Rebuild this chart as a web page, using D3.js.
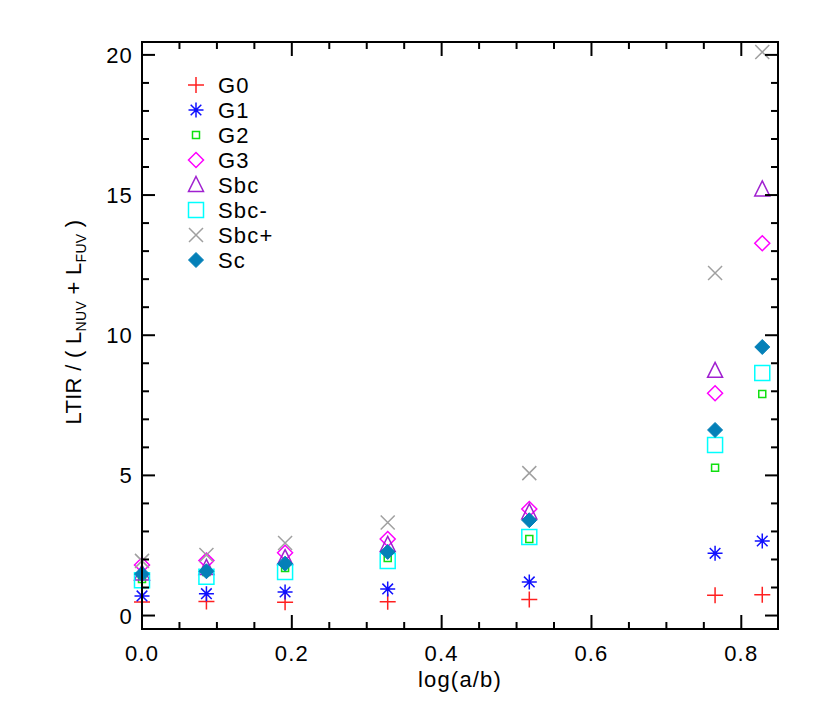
<html>
  <head>
    <style>
      body { margin: 0; background: #fff; }
      text { font-family: "Liberation Sans", Arial, sans-serif; fill: #000; letter-spacing: 1.2px; }
    </style>
  </head>
  <body>
    <div id="main"><svg></svg></div>
    <script src="https://d3js.org/d3.v7.min.js"></script>
    <script>
      // log(a/b) positions
      var xVals = [0.0, 0.086, 0.191, 0.328, 0.517, 0.765, 0.828];

      var g0   = [0.48, 0.50, 0.47, 0.49, 0.57, 0.72, 0.74];
      var g1   = [0.70, 0.78, 0.84, 0.95, 1.20, 2.22, 2.66];
      var g2   = [1.30, 1.55, 1.70, 2.05, 2.73, 5.27, 7.90];
      var g3   = [1.80, 1.96, 2.24, 2.73, 3.80, 7.93, 13.28];
      var sbc  = [1.50, 1.70, 2.05, 2.52, 3.68, 8.73, 15.20];
      var sbcM = [1.26, 1.38, 1.55, 1.95, 2.80, 6.08, 8.65];
      var sbcP = [1.95, 2.16, 2.59, 3.32, 5.08, 12.22, 20.10];
      var sc   = [1.48, 1.58, 1.85, 2.27, 3.40, 6.62, 9.58];

      var seriesNames = ["G0", "G1", "G2", "G3", "Sbc", "Sbc-", "Sbc+", "Sc"];
      var seriesVals = [g0, g1, g2, g3, sbc, sbcM, sbcP, sc];
      var seriesColors = ["#ff2020", "#1010ff", "#10e010", "#ff00ff", "#a020d0", "#00ffff", "#a0a0a0", "#0480b8"];
      var seriesSymbols = ["plus", "asterisk", "smallsquare", "diamond", "triangle", "square", "cross", "filldiamond"];

      var xTicks = [0.0, 0.2, 0.4, 0.6, 0.8];
      var yTicks = [0, 5, 10, 15, 20];

      var width = 830, height = 713;
      var pL = 142, pR = 778, pT = 42, pB = 629;

      var svg = d3.select("#main svg").attr("width", width).attr("height", height);

      var x = d3.scaleLinear().domain([0, 0.849]).range([pL, pR]);
      var y = d3.scaleLinear().domain([-0.48, 20.46]).range([pB, pT]);

      // symbol path, centered at 0,0
      function symbolPath(type) {
        var r = 7.5;
        switch (type) {
          case "plus":
            return "M-8,0H8M0,-8V8";
          case "asterisk":
            var p = "";
            for (var i = 0; i < 4; i++) {
              var a = i * Math.PI / 4;
              var dx = Math.cos(a) * r, dy = Math.sin(a) * r;
              p += "M" + (-dx) + "," + (-dy) + "L" + dx + "," + dy;
            }
            return p;
          case "smallsquare":
            return "M-3.5,-3.5H3.5V3.5H-3.5Z";
          case "square":
            return "M-7.5,-7.5H7.5V7.5H-7.5Z";
          case "diamond":
          case "filldiamond":
            return "M0,-7.5L7.5,0L0,7.5L-7.5,0Z";
          case "triangle":
            return "M0,-8.5L7.5,6.5H-7.5Z";
          case "cross":
            return "M-7,-7L7,7M7,-7L-7,7";
        }
      }

      function drawSymbol(g, type, color, cx, cy) {
        var fill = type === "filldiamond" ? color : "none";
        g.append("path")
          .attr("d", symbolPath(type))
          .attr("transform", "translate(" + cx + "," + cy + ")")
          .attr("fill", fill)
          .attr("stroke", color)
          .attr("stroke-width", type === "filldiamond" ? 1 : 1.5);
      }

      // points
      var pts = svg.append("g");
      seriesVals.forEach(function(vals, si) {
        vals.forEach(function(v, i) {
          drawSymbol(pts, seriesSymbols[si], seriesColors[si], x(xVals[i]), y(v));
        });
      });

      // axes box
      var axes = svg.append("g").attr("stroke", "#000").attr("stroke-width", 2);
      axes.append("rect")
        .attr("x", pL).attr("y", pT)
        .attr("width", pR - pL).attr("height", pB - pT)
        .attr("fill", "none");

      var xMinor = d3.range(0, 0.85, 0.05);
      xMinor.forEach(function(t) {
        var major = Math.abs(t / 0.2 - Math.round(t / 0.2)) < 1e-6;
        var len = major ? 14 : 7;
        axes.append("line").attr("x1", x(t)).attr("x2", x(t)).attr("y1", pB).attr("y2", pB - len);
        axes.append("line").attr("x1", x(t)).attr("x2", x(t)).attr("y1", pT).attr("y2", pT + len);
      });
      d3.range(0, 21, 1).forEach(function(t) {
        var len = t % 5 === 0 ? 13 : 7;
        axes.append("line").attr("y1", y(t)).attr("y2", y(t)).attr("x1", pL).attr("x2", pL + len);
        axes.append("line").attr("y1", y(t)).attr("y2", y(t)).attr("x1", pR).attr("x2", pR - len);
      });

      svg.selectAll(".xt").data(xTicks).enter().append("text")
        .attr("x", function(d) { return x(d); })
        .attr("y", 661)
        .attr("text-anchor", "middle")
        .attr("font-size", 22)
        .text(function(d) { return d.toFixed(1); });

      svg.selectAll(".yt").data(yTicks).enter().append("text")
        .attr("x", 133)
        .attr("y", function(d) { return y(d) + 8; })
        .attr("text-anchor", "end")
        .attr("font-size", 22)
        .text(function(d) { return d; });

      svg.append("text")
        .attr("x", (pL + pR) / 2)
        .attr("y", 687)
        .attr("text-anchor", "middle")
        .attr("font-size", 22)
        .text("log(a/b)");

      var yt = svg.append("text")
        .attr("transform", "translate(81,322) rotate(-90)")
        .attr("text-anchor", "middle")
        .attr("font-size", 22)
        .style("letter-spacing", "0.3px");
      yt.append("tspan").text("LTIR / ( L");
      yt.append("tspan").attr("font-size", 14).attr("dy", 5).text("NUV");
      yt.append("tspan").attr("dy", -5).text(" + L");
      yt.append("tspan").attr("font-size", 14).attr("dy", 5).text("FUV");
      yt.append("tspan").attr("dy", -5).text(" )");

      // legend
      var leg = svg.append("g");
      seriesNames.forEach(function(name, i) {
        var ly = 85 + i * 25;
        drawSymbol(leg, seriesSymbols[i], seriesColors[i], 196, ly);
        leg.append("text")
          .attr("x", 218)
          .attr("y", ly + 8)
          .attr("font-size", 22)
          .text(name);
      });
    </script>
  </body>
</html>
